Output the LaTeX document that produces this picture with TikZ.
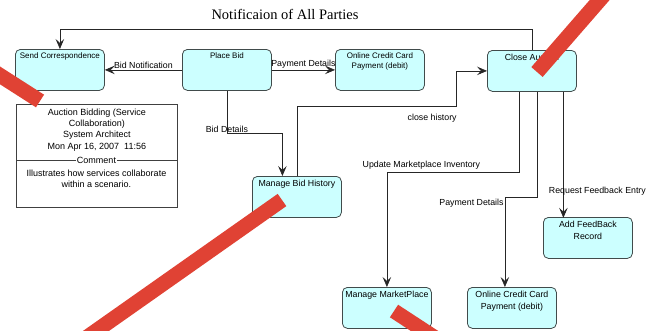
\documentclass[tikz,border=0pt]{standalone}
\usepackage{fontspec}
\setmainfont{Liberation Sans}
\newfontfamily\titlefont{Liberation Serif}
\usetikzlibrary{arrows.meta,positioning}
\definecolor{boxfill}{RGB}{204,255,255}
\definecolor{boxline}{RGB}{65,75,75}
\definecolor{strikered}{RGB}{224,66,52}

\begin{document}
\begin{tikzpicture}
  [x=1pt,y=-1pt,
   box/.style={draw=boxline,fill=boxfill,rounded corners=5pt,line width=0.8pt,
     anchor=north west,inner xsep=2pt,inner ysep=3.5pt,
     font=\fontsize{8.8}{12}\selectfont,
     execute at begin node={\begin{minipage}[t][34pt][t]{85pt}\centering},
     execute at end node={\end{minipage}}},
   smallbox/.style={box,font=\fontsize{8}{10}\selectfont},
   lbl/.style={font=\fontsize{8.8}{10}\selectfont,inner sep=1pt},
   notebox/.style={draw=black!75,line width=0.8pt,anchor=north west,
     minimum width=161pt,minimum height=103pt,inner sep=0pt},
   notetxt/.style={font=\fontsize{9}{11.3}\selectfont,align=center,inner sep=1pt},
   flow/.style={draw=black!85,line width=0.7pt,-{Stealth[length=10pt,width=8.5pt,inset=4pt]}},
   strike/.style={draw=strikered,line width=15pt}]
  \useasboundingbox[fill=white] (0,0) rectangle (658,330);

  \node[font=\titlefont\fontsize{14.5}{16}\selectfont] (ttl) at (285,14) {Notificaion of All Parties};

  \node[smallbox] (sc)   at (15,49)   {Send Correspondence};
  \node[smallbox] (pb)   at (182,49)  {Place Bid};
  \node[smallbox] (occa) at (335,49)  {Online Credit Card\\Payment (debit)};
  \node[box]      (ca)   at (487,50)  {Close Auction};
  \node[box]      (mbh)  at (252,176) {Manage Bid History};
  \node[box]      (afr)  at (543,217) {Add FeedBack\\Record};
  \node[box]      (mmp)  at (342,287) {Manage MarketPlace};
  \node[box]      (occb) at (467,287) {Online Credit Card\\Payment (debit)};

  % comment note
  \node[notebox] (note) at (16,104) {};
  \node[notetxt,below=3.5pt of note.north] (hdr)
    {Auction Bidding (Service\\Collaboration)\\System Architect\\Mon Apr 16, 2007\ \ 11:56};
  \node[notetxt] (cmt) at (96.5,160) {Comment};
  \draw[black!75,line width=0.8pt] (note.west |- cmt) -- (cmt.west) (cmt.east) -- (note.east |- cmt);
  \node[notetxt,below=4pt of cmt] (body) {Illustrates how services collaborate\\within a scenario.};

  % flows
  \draw[flow] (ca.north) -- ++(0,-21) -| (sc.north);
  \draw[flow] (pb.west) -- node[lbl,above] {Bid Notification} (sc.east);
  \draw[flow] (pb.east) -- node[lbl,above] {Payment Details} (occa.west);
  \draw[flow] (pb.south) -- ++(0,43) node[lbl,above] {Bid Details} -| ([xshift=-14.5pt]mbh.north);
  \draw[flow] (mbh.north) |- node[lbl,pos=0.925,below=7pt] {close history} (456,106) |- (ca.west);
  \draw[flow] ([xshift=-12.5pt]ca.south) -- ++(0,81)
    -| node[lbl,pos=0.37,above=2pt] {Update Marketplace Inventory} (mmp.north);
  \draw[flow] ([xshift=5.5pt]ca.south) -- ++(0,106)
    -| node[lbl,pos=0.5,below left] {Payment Details} ([xshift=-7pt]occb.north);
  \draw[flow] ([xshift=31.5pt]ca.south) -- node[lbl,pos=0.79,xshift=34pt] {Request Feedback Entry} ++(0,126);

  % strike marks
  \draw[strike] (537,72) -- (604,-5);
  \draw[strike] (40,101) -- (-10,69);
  \draw[strike] (282,200) -- (76,345);
  \draw[strike] (394,311) -- (446,345);
\end{tikzpicture}
\end{document}
